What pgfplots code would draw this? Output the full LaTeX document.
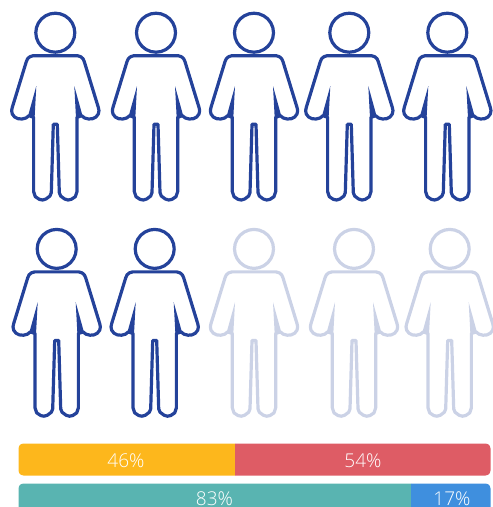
\documentclass[border=0pt]{standalone}
\usepackage{fontspec}
\setmainfont{Open Sans Light}
\usepackage{pgfplots}
\usepackage{pgfplotstable}
\pgfplotsset{compat=1.18}
\definecolor{dk}{HTML}{24429A}
\definecolor{lt}{HTML}{CBD2E6}
\definecolor{amber}{HTML}{FDB71C}
\definecolor{redb}{HTML}{DE5C65}
\definecolor{teal2}{HTML}{59B4B1}
\definecolor{blue2}{HTML}{3F8FDE}
% outline of one figure: x from its centre, y from the top of the picture, 3x pixels
\pgfplotstableread{
x y
0 167
66 167
76 170
83 176
87 185
129 322
131 332
129 342
122 351
112 356
100 357
88 354
79 347
65 352
65 575
60 590
48 598
38 600
28 597
16 588
12 578
6 373
-6 373
-12 578
-16 588
-28 597
-38 600
-48 598
-60 590
-65 575
-65 352
-79 347
-88 354
-100 357
-112 356
-122 351
-129 342
-131 332
-129 322
-87 185
-83 176
-76 170
-66 167
0 167
}\bodytab
% wedges under the arms
\pgfplotstableread{
x y
57 258
81 345
62 352
57 258
}\wedgeR
\pgfplotstableread{
x y
-57 258
-81 345
-62 352
-57 258
}\wedgeL
% head circle, pixels from its centre
\pgfplotstableread{
x y
19.5 0
18.84 5.05
16.89 9.75
13.79 13.79
9.75 16.89
5.05 18.84
0 19.5
-5.05 18.84
-9.75 16.89
-13.79 13.79
-16.89 9.75
-18.84 5.05
-19.5 0
-18.84 -5.05
-16.89 -9.75
-13.79 -13.79
-9.75 -16.89
-5.05 -18.84
0 -19.5
5.05 -18.84
9.75 -16.89
13.79 -13.79
16.89 -9.75
18.84 -5.05
19.5 0
}\headtab
\newcommand{\person}[3]{%
  \addplot[#3,line width=3.2pt,line join=round,line cap=round,no markers]
    table[x expr=\thisrow{x}/3+#1,y expr=\thisrow{y}/3+#2]{\bodytab};
  \addplot[fill=#3,draw=none,no markers]
    table[x expr=\thisrow{x}/3+#1,y expr=\thisrow{y}/3+#2]{\wedgeR};
  \addplot[fill=#3,draw=none,no markers]
    table[x expr=\thisrow{x}/3+#1,y expr=\thisrow{y}/3+#2]{\wedgeL};
  \addplot[#3,line width=3.2pt,line join=round,no markers]
    table[x expr=\thisrow{x}+#1,y expr=\thisrow{y}+32.7+#2]{\headtab};
}
\begin{document}
\begin{tikzpicture}
\useasboundingbox (0,0) rectangle (493pt,507pt);
\begin{axis}[at={(0,0)},anchor=south west,scale only axis,width=493pt,height=507pt,
  xmin=0,xmax=493,ymin=0,ymax=507,y dir=reverse,hide axis,clip=true]
\person{55.3}{0}{dk}
\person{156}{0}{dk}
\person{254}{0}{dk}
\person{349.3}{0}{dk}
\person{447.3}{0}{dk}
\person{56.7}{216.2}{dk}
\person{154.7}{216.2}{dk}
\person{254}{216.2}{lt}
\person{354}{216.2}{lt}
\person{449.7}{216.2}{lt}
\addplot[fill=amber,draw=none] coordinates {(235,443.5)(23.5,443.5)(21,444.2)(19.2,446)(18.5,448.5)(18.5,470.5)(19.2,473)(21,474.8)(23.5,475.5)(235,475.5)} --cycle;
\addplot[fill=redb,draw=none] coordinates {(235,443.5)(485.5,443.5)(488,444.2)(489.8,446)(490.5,448.5)(490.5,470.5)(489.8,473)(488,474.8)(485.5,475.5)(235,475.5)} --cycle;
\addplot[fill=teal2,draw=none] coordinates {(411,483.5)(23.5,483.5)(21,484.2)(19.2,486)(18.5,488.5)(18.5,510)(411,510)} --cycle;
\addplot[fill=blue2,draw=none] coordinates {(411,483.5)(485.5,483.5)(488,484.2)(489.8,486)(490.5,488.5)(490.5,510)(411,510)} --cycle;
\node[white,font=\fontsize{19}{20}\selectfont] at (axis cs:126,461) {46\%};
\node[white,font=\fontsize{19}{20}\selectfont] at (axis cs:363,461) {54\%};
\node[white,font=\fontsize{19}{20}\selectfont] at (axis cs:214.5,498.5) {83\%};
\node[white,font=\fontsize{19}{20}\selectfont] at (axis cs:452,498.5) {17\%};
\end{axis}
\end{tikzpicture}
\end{document}
